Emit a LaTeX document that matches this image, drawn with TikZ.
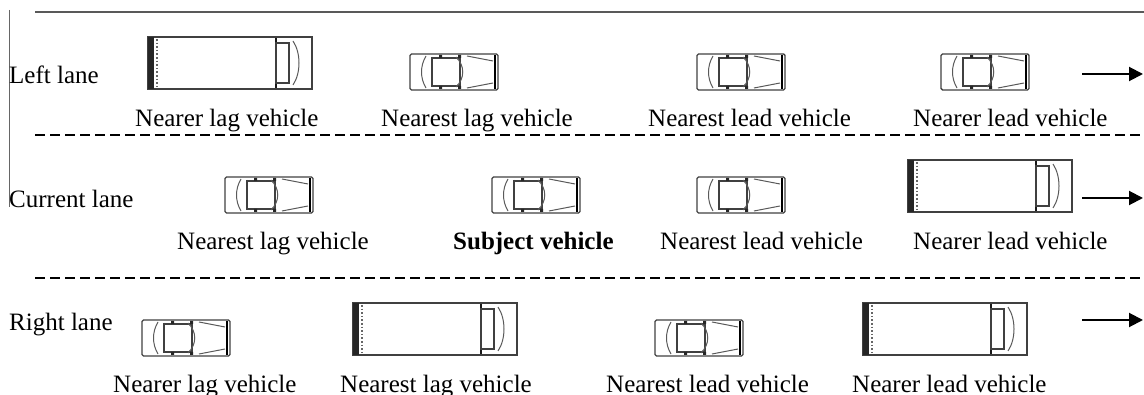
\documentclass[tikz,border=0pt]{standalone}
\usepackage{fontspec}
\setmainfont{Liberation Serif}
\usetikzlibrary{arrows.meta}
\tikzset{
  shell/.style={draw=black!75, line width=1.4pt},
  fine/.style={draw=black!65, line width=1pt},
  heavy/.style={draw=black!90, line width=2pt},
  lanetext/.style={anchor=base west, inner sep=0pt, font=\fontsize{25}{30}\selectfont},
  vlabel/.style={anchor=base west, inner sep=0pt, font=\fontsize{25}{30}\selectfont},
  divider/.style={draw=black, line width=2pt, dash pattern=on 10pt off 5pt},
  motion/.style={draw=black, line width=2pt, -{Triangle[length=14pt,width=14pt]}},
  % passenger car seen from above, front to the right, 88 x 36
  car/.pic={
    \draw[shell, rounded corners=1.5pt] (0,0) rectangle (88,36);
    \draw[fine] (16,2) .. controls (10,12) and (10,24) .. (16,34);
    \draw[heavy] (22,3) -- (22,33);
    \draw[shell] (22,4) rectangle (50,32);
    \fill[black!85] (29,1) rectangle (32,4) (29,32) rectangle (32,35)
                    (48,1) rectangle (51,4) (48,32) rectangle (51,35);
    \draw[fine] (46,3) .. controls (55,12) and (55,24) .. (46,33);
    \draw[fine] (57,2) -- (83,7) (57,34) -- (83,29);
    \draw[draw=black, line width=2.6pt] (85,1) -- (85,35);
  },
  % lorry seen from above, cab to the right, 164 x 52
  lorry/.pic={
    \draw[shell] (0,0) rectangle (164,52);
    \fill[black!85] (0,0) rectangle (6,52);
    \draw[draw=black!60, line width=1.6pt, dotted] (9,2) -- (9,50);
    \draw[heavy] (128,1) -- (128,51);
    \draw[shell, line width=1.8pt] (128,6) rectangle (141,46);
    \draw[fine] (145,4) .. controls (153,16) and (153,36) .. (145,48);
  }
}
\begin{document}
\begin{tikzpicture}[x=1pt, y=-1pt]
\useasboundingbox (0,0) rectangle (1144,395);

% road edge and lane separators
\draw[draw=black!65, line width=1.5pt] (35,12) -- (1144,12);
\draw[draw=black!60, line width=1pt] (9,10) -- (9,207);
\draw[divider] (35,135) -- (1144,135);
\draw[divider] (35,278) -- (1144,278);

% lane names
\node[lanetext] (lleft) at (9,84) {Left lane};
\node[lanetext] (lcur) at (9,208) {Current lane};
\node[lanetext] (lright) at (9,331) {Right lane};

% left lane
\pic (v11) at (148,37) {lorry};
\pic (v12) at (410,54) {car};
\pic (v13) at (697,54) {car};
\pic (v14) at (941,54) {car};
\node[vlabel] (t11) at (135,127) {Nearer lag vehicle};
\node[vlabel] (t12) at (381,127) {Nearest lag vehicle};
\node[vlabel] (t13) at (648,127) {Nearest lead vehicle};
\node[vlabel] (t14) at (913,127) {Nearer lead vehicle};

% current lane
\pic (v21) at (225,177) {car};
\pic (v22) at (492,177) {car};
\pic (v23) at (697,177) {car};
\pic (v24) at (908,160) {lorry};
\node[vlabel] (t21) at (177,250) {Nearest lag vehicle};
\node[vlabel, font=\fontsize{25}{30}\selectfont\bfseries] (t22) at (453,250) {Subject vehicle};
\node[vlabel] (t23) at (660,250) {Nearest lead vehicle};
\node[vlabel] (t24) at (913,250) {Nearer lead vehicle};

% right lane
\pic (v31) at (142,320) {car};
\pic (v32) at (353,303) {lorry};
\pic (v33) at (655,320) {car};
\pic (v34) at (863,303) {lorry};
\node[vlabel] (t31) at (113,392) {Nearer lag vehicle};
\node[vlabel] (t32) at (340,392) {Nearest lag vehicle};
\node[vlabel] (t33) at (606,392) {Nearest lead vehicle};
\node[vlabel] (t34) at (852,392) {Nearer lead vehicle};

% direction of travel
\coordinate (a1s) at (1082,74);  \coordinate (a1e) at (1143,74);
\coordinate (a2s) at (1082,198); \coordinate (a2e) at (1143,198);
\coordinate (a3s) at (1082,320); \coordinate (a3e) at (1143,320);
\draw[motion] (a1s) -- (a1e);
\draw[motion] (a2s) -- (a2e);
\draw[motion] (a3s) -- (a3e);
\end{tikzpicture}
\end{document}
